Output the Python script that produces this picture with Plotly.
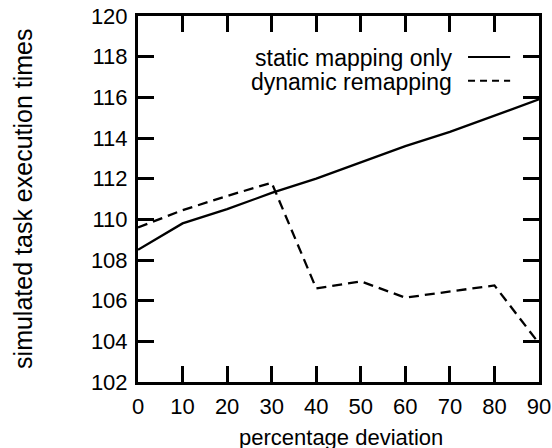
import plotly.graph_objects as go

deviation = [0, 10, 20, 30, 40, 50, 60, 70, 80, 90]
static_only = [108.5, 109.8, 110.5, 111.3, 112.0, 112.8, 113.6, 114.3, 115.1, 115.9]
dynamic_remap = [109.6, 110.45, 111.15, 111.8, 106.6, 106.95, 106.15, 106.45, 106.75, 103.9]

legend_labels = ["static mapping only", "dynamic remapping"]
x_ticks = [0, 10, 20, 30, 40, 50, 60, 70, 80, 90]
y_ticks = [102, 104, 106, 108, 110, 112, 114, 116, 118, 120]

FONT = "Liberation Sans, Arial, Helvetica, sans-serif"
INK = "black"

fig = go.Figure()
fig.add_trace(go.Scatter(x=deviation, y=static_only, mode="lines", name=legend_labels[0],
                         line=dict(color=INK, width=2.3), showlegend=False))
fig.add_trace(go.Scatter(x=deviation, y=dynamic_remap, mode="lines", name=legend_labels[1],
                         line=dict(color=INK, width=2.3, dash="10px,6px"), showlegend=False))

# manual legend (text right-aligned, sample line on the right)
rows = [(0.885, "solid"), (0.820, "7px,5px")]
for label, (yy, dash) in zip(legend_labels, rows):
    fig.add_annotation(x=0.788, y=yy, xref="paper", yref="paper", text=label,
                       showarrow=False, xanchor="right", yanchor="middle",
                       font=dict(family=FONT, size=23, color=INK))
    fig.add_shape(type="line", xref="paper", yref="paper", x0=0.823, x1=0.928,
                  y0=yy + 0.003, y1=yy + 0.003, line=dict(color=INK, width=2, dash=dash))

axis_common = dict(showline=True, linecolor=INK, linewidth=3, mirror="ticks",
                   ticks="inside", ticklen=16, tickwidth=3, tickcolor=INK,
                   showgrid=False, zeroline=False, automargin=False,
                   tickfont=dict(family=FONT, size=22, color=INK))

fig.update_xaxes(range=[0, 90], tickvals=x_ticks, ticktext=[str(v) for v in x_ticks],
                 ticklabelstandoff=3, **axis_common)
fig.update_yaxes(range=[102, 120], tickvals=y_ticks, ticktext=[str(v) for v in y_ticks],
                 ticklabelstandoff=3, **axis_common)

# axis titles placed as paper annotations to match reference positions
fig.add_annotation(x=0.505, y=-0.152, xref="paper", yref="paper", text="percentage deviation",
                   showarrow=False, xanchor="center", yanchor="middle",
                   font=dict(family=FONT, size=22, color=INK))
fig.add_annotation(x=-0.287, y=0.5, xref="paper", yref="paper",
                   text="simulated task execution times", textangle=-90,
                   showarrow=False, xanchor="center", yanchor="middle",
                   font=dict(family=FONT, size=25, color=INK))

fig.update_layout(width=552, height=448, margin=dict(l=138, r=13, t=16, b=66),
                  paper_bgcolor="white", plot_bgcolor="white",
                  font=dict(family=FONT, color=INK))

fig.write_html("out.html", config={"displayModeBar": False},
               post_script="document.body.style.margin='0';document.body.style.overflow='hidden';")
